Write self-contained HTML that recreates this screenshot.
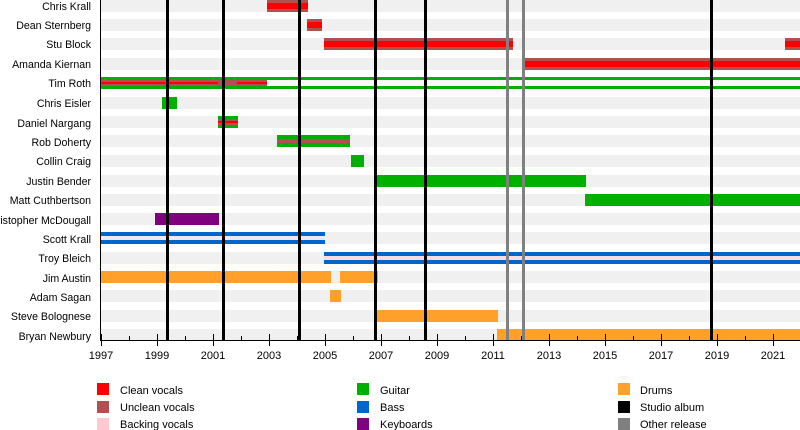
<!DOCTYPE html>
<html><head><style>body{margin:0;background:#fff}svg{display:block;font-family:"Liberation Sans",sans-serif}</style></head><body>
<svg width="800" height="430" viewBox="0 0 800 430" xmlns="http://www.w3.org/2000/svg">
<g fill="#f0f0f0">
<rect x="101" y="0" width="699" height="12"/><rect x="101" y="19" width="699" height="12"/><rect x="101" y="38" width="699" height="12"/><rect x="101" y="58" width="699" height="12"/><rect x="101" y="77" width="699" height="12"/><rect x="101" y="97" width="699" height="12"/><rect x="101" y="116" width="699" height="12"/><rect x="101" y="135" width="699" height="12"/><rect x="101" y="155" width="699" height="12"/><rect x="101" y="175" width="699" height="12"/><rect x="101" y="194" width="699" height="12"/><rect x="101" y="213" width="699" height="12"/><rect x="101" y="232" width="699" height="12"/><rect x="101" y="252" width="699" height="12"/><rect x="101" y="271" width="699" height="12"/><rect x="101" y="290" width="699" height="12"/><rect x="101" y="310" width="699" height="12"/><rect x="101" y="329" width="699" height="11"/>
</g>
<g font-size="10.6" fill="#000" text-anchor="end">
<text x="91" y="10">Chris Krall</text><text x="91" y="29">Dean Sternberg</text><text x="91" y="48">Stu Block</text><text x="91" y="68">Amanda Kiernan</text><text x="91" y="87">Tim Roth</text><text x="91" y="107">Chris Eisler</text><text x="91" y="127">Daniel Nargang</text><text x="91" y="146">Rob Doherty</text><text x="91" y="165">Collin Craig</text><text x="91" y="185">Justin Bender</text><text x="91" y="204">Matt Cuthbertson</text><text x="91" y="224">Christopher McDougall</text><text x="91" y="243">Scott Krall</text><text x="91" y="262">Troy Bleich</text><text x="91" y="282">Jim Austin</text><text x="91" y="301">Adam Sagan</text><text x="91" y="320">Steve Bolognese</text><text x="91" y="340">Bryan Newbury</text>
</g>
<rect x="267" y="0" width="41" height="12" fill="#b05050"/><rect x="267" y="3" width="41" height="6" fill="#ff0000"/>
<rect x="307" y="19" width="15" height="12" fill="#b05050"/><rect x="307" y="22" width="15" height="6" fill="#ff0000"/>
<rect x="324" y="38" width="189" height="12" fill="#b05050"/><rect x="324" y="41" width="189" height="6" fill="#ff0000"/>
<rect x="785" y="38" width="15" height="12" fill="#b05050"/><rect x="785" y="41" width="15" height="6" fill="#ff0000"/>
<rect x="522" y="58" width="278" height="12" fill="#b05050"/><rect x="522" y="61" width="278" height="6" fill="#ff0000"/>
<rect x="101" y="77" width="699" height="12" fill="#00b000"/><rect x="101" y="80" width="699" height="6" fill="#fff8f8"/>
<rect x="101" y="80" width="166" height="6" fill="#b05050"/><rect x="101" y="82" width="117" height="2" fill="#ff0000"/><rect x="237" y="82" width="30" height="2" fill="#ff0000"/>
<rect x="162" y="97" width="15" height="12" fill="#00b000"/>
<rect x="218" y="116" width="20" height="12" fill="#00b000"/><rect x="218" y="119" width="20" height="6" fill="#b05050"/><rect x="218" y="121" width="20" height="2" fill="#ff0000"/>
<rect x="277" y="135" width="73" height="12" fill="#00b000"/><rect x="277" y="139" width="73" height="4" fill="#b05050"/>
<rect x="351" y="155" width="13" height="12" fill="#00b000"/>
<rect x="376" y="175" width="210" height="12" fill="#00b000"/>
<rect x="585" y="194" width="215" height="12" fill="#00b000"/>
<rect x="155" y="213" width="64" height="12" fill="#800080"/>
<rect x="101" y="232" width="224" height="12" fill="#0066cc"/><rect x="101" y="236" width="224" height="4" fill="#f0e8f0"/>
<rect x="324" y="252" width="476" height="12" fill="#0066cc"/><rect x="324" y="256" width="476" height="4" fill="#f8dce0"/>
<g fill="#ffa02a">
<rect x="101" y="271" width="230" height="12"/><rect x="340" y="271" width="38" height="12"/>
<rect x="330" y="290" width="11" height="12"/>
<rect x="376" y="310" width="122" height="12"/>
<rect x="497" y="329" width="303" height="11"/>
</g>
<g fill="#000"><rect x="166" y="0" width="3" height="340"/><rect x="222" y="0" width="3" height="340"/><rect x="298" y="0" width="3" height="340"/><rect x="374" y="0" width="3" height="340"/><rect x="424" y="0" width="3" height="340"/><rect x="710" y="0" width="3" height="340"/></g>
<g fill="#808080"><rect x="506" y="0" width="3" height="340"/><rect x="522" y="0" width="3" height="340"/></g>
<rect x="100" y="0" width="1" height="341" fill="#000"/>
<rect x="100" y="340" width="700" height="1" fill="#000"/>
<g stroke="#000" stroke-width="1">
<path d="M101.5 334V346M129.5 336V340M157.5 334V346M185.5 336V340M213.5 334V346M241.5 336V340M269.5 334V346M297.5 336V340M325.5 334V346M353.5 336V340M381.5 334V346M409.5 336V340M437.5 334V346M465.5 336V340M493.5 334V346M521.5 336V340M549.5 334V346M577.5 336V340M605.5 334V346M633.5 336V340M661.5 334V346M689.5 336V340M717.5 334V346M745.5 336V340M773.5 334V346"/>
</g>
<g font-size="11" text-anchor="middle">
<text x="101" y="359">1997</text><text x="157" y="359">1999</text><text x="213" y="359">2001</text><text x="269" y="359">2003</text><text x="325" y="359">2005</text><text x="381" y="359">2007</text><text x="437" y="359">2009</text><text x="493" y="359">2011</text><text x="549" y="359">2013</text><text x="605" y="359">2015</text><text x="661" y="359">2017</text><text x="717" y="359">2019</text><text x="773" y="359">2021</text>
</g>
<rect x="97" y="383" width="12" height="12" fill="#ff0000"/><rect x="97" y="401" width="12" height="12" fill="#b05050"/><rect x="97" y="418" width="12" height="12" fill="#ffc8d0"/>
<rect x="357" y="383" width="12" height="12" fill="#00b000"/><rect x="357" y="401" width="12" height="12" fill="#0066cc"/><rect x="357" y="418" width="12" height="12" fill="#800080"/>
<rect x="618" y="383" width="12" height="12" fill="#ffa02a"/><rect x="618" y="401" width="12" height="12" fill="#000"/><rect x="618" y="418" width="12" height="12" fill="#808080"/>
<g font-size="11">
<text x="120" y="394">Clean vocals</text><text x="120" y="411">Unclean vocals</text><text x="120" y="428">Backing vocals</text>
<text x="380" y="394">Guitar</text><text x="380" y="411">Bass</text><text x="380" y="428">Keyboards</text>
<text x="640" y="394">Drums</text><text x="640" y="411">Studio album</text><text x="640" y="428">Other release</text>
</g>
</svg>
</body></html>
